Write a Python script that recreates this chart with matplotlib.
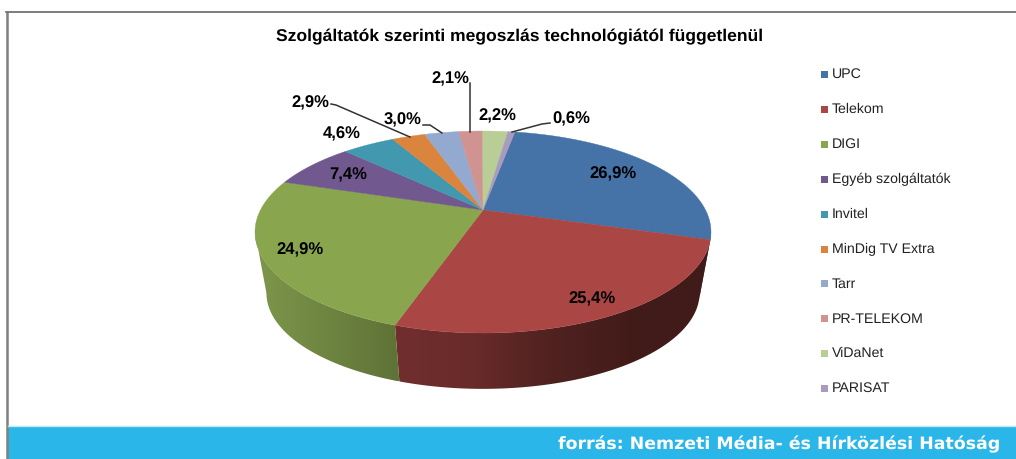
import numpy as np
import matplotlib
matplotlib.use("Agg")
import matplotlib.pyplot as plt
from matplotlib.colors import LinearSegmentedColormap
from matplotlib.patches import Polygon, Rectangle

plt.rcParams['font.family'] = ['Liberation Sans', 'DejaVu Sans']
plt.rcParams['text.hinting'] = 'no_hinting'

# data
names = ["UPC", "Telekom", "DIGI", "Egyéb szolgáltatók", "Invitel", "MinDig TV Extra",
         "Tarr", "PR-TELEKOM", "ViDaNet", "PARISAT"]
values = [26.9, 25.4, 24.9, 7.4, 4.6, 2.9, 3.0, 2.1, 2.2, 0.6]
colors = ["#4573A7", "#AA4644", "#89A54E", "#71588F", "#4298AF", "#DB843D",
          "#93A9CF", "#D19392", "#B9CD96", "#A99BBD"]
title = "Szolgáltatók szerinti megoszlás technológiától függetlenül"
source = "forrás: Nemzeti Média- és Hírközlési Hatóság"

# label positions, picture pixels
label_xy = [(613, 174), (592, 299), (300, 250), (348, 175), (342, 134),
            (310, 103), (403, 120), (450, 79), (497, 116), (571, 119)]

# leader lines for the small slices
leaders = [
    [(331, 104), (336, 105), (410, 137)],
    [(423, 125), (430, 125), (442, 133)],
    [(470, 83), (470, 132)],
    [(550, 123), (542, 124), (512, 132)],
]

# side wall shading, left to right
wall_shades = {
    0: ["#35557C", "#2A4566"],
    1: ["#722E2E", "#682B2A", "#4F2220", "#421B19", "#401B19"],
    2: ["#7D974B", "#5F7237"],
}

# pie geometry: apex, radius and perspective factor
cx, cy = 483, 210
rx = 222.5
d = 96.2
a = 0.218
start = 10.0
wall_scale = 0.95
wall_y = 272


def top_xy(t):
    s, c = np.sin(np.radians(t)), np.cos(np.radians(t))
    k = 1 + a * c
    return rx * s / k, -d * c / k


def arc_top(t):
    x, y = top_xy(t)
    return np.column_stack([cx + x, cy + y])


def arc_bottom(t):
    x, y = top_xy(t)
    return np.column_stack([cx + wall_scale * x, wall_y + wall_scale * y])


fig = plt.figure(figsize=(10.16, 4.59), dpi=100)
ax = fig.add_axes([0, 0, 1, 1])

edges = start + np.cumsum([0] + values) * 3.6
wall_a = np.degrees(np.arccos(-a))
wall_b = 360 - wall_a

# side walls
for i, shades in wall_shades.items():
    t0, t1 = max(edges[i], wall_a), min(edges[i + 1], wall_b)
    t = np.linspace(t0, t1, 120)
    pts = np.vstack([arc_top(t), arc_bottom(t)[::-1]])
    cmap = LinearSegmentedColormap.from_list("wall%d" % i, shades)
    im = ax.imshow(np.linspace(0, 1, 256).reshape(1, -1), cmap=cmap, aspect="auto",
                   extent=(pts[:, 0].min(), pts[:, 0].max(), pts[:, 1].max(), pts[:, 1].min()),
                   zorder=2)
    patch = Polygon(pts, closed=True, transform=ax.transData, fc="none", ec="none")
    ax.add_patch(patch)
    im.set_clip_path(patch)

# top surface
for i in range(len(values)):
    t = np.linspace(edges[i], edges[i + 1], 100)
    pts = np.vstack([[(cx, cy)], arc_top(t)])
    ax.add_patch(Polygon(pts, closed=True, fc=colors[i], ec=colors[i], lw=0.3, zorder=3))

for line in leaders:
    xs, ys = zip(*line)
    ax.plot(xs, ys, color="#333333", lw=1.1, zorder=4)

for v, (x, y) in zip(values, label_xy):
    ax.text(x, y, ("%.1f%%" % v).replace(".", ","), ha="center", va="center",
            fontsize=12, fontweight="bold", color="black", zorder=5)

ax.text(520, 36.5, title, ha="center", va="center", fontsize=12.6, fontweight="bold", color="black")

# legend
for i, name in enumerate(names):
    y = 74.5 + i * 34.9
    ax.add_patch(Rectangle((821, y - 3.5), 7, 7, fc=colors[i], ec="none"))
    ax.text(832, y, name, ha="left", va="center", fontsize=10.2, color="#222222")

# frame and footer band
ax.plot([7, 7], [459, 11.5], color="#808080", lw=1.8, zorder=6, solid_capstyle="butt")
ax.plot([6, 1016], [11.5, 11.5], color="#666666", lw=1.2, zorder=6)
ax.add_patch(Rectangle((8, 426), 1008, 33, fc="#2BB6E9", ec="none", zorder=5))
ax.plot([8, 1016], [426, 426], color="#BDE8F8", lw=1, zorder=6)
ax.text(1000, 444, source, ha="right", va="center", fontsize=12.5, fontweight="bold",
        family=["DejaVu Sans"], color="white", zorder=6)

ax.set_xlim(0, 1016)
ax.set_ylim(459, 0)
ax.axis("off")
fig.savefig("out.png", dpi=100, facecolor="white")
